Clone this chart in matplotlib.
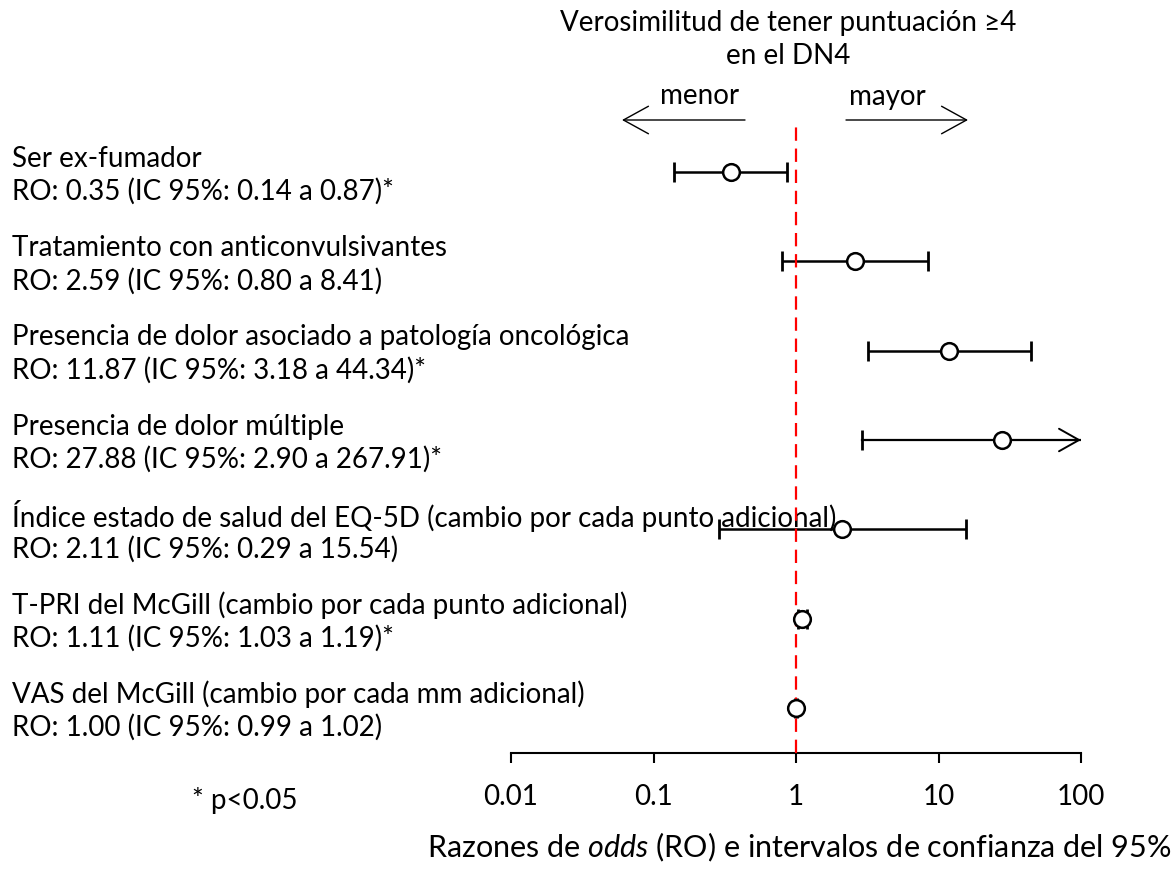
import numpy as np
import matplotlib.pyplot as plt
import matplotlib.transforms as mtransforms

plt.rcParams['font.family'] = ['Lato', 'DejaVu Sans']
plt.rcParams['mathtext.fontset'] = 'custom'
plt.rcParams['mathtext.it'] = 'Lato:italic'
plt.rcParams['mathtext.rm'] = 'Lato'

# odds ratios with 95% confidence intervals
factores = [
    "Ser ex-fumador",
    "Tratamiento con anticonvulsivantes",
    "Presencia de dolor asociado a patología oncológica",
    "Presencia de dolor múltiple",
    "Índice estado de salud del EQ-5D (cambio por cada punto adicional)",
    "T-PRI del McGill (cambio por cada punto adicional)",
    "VAS del McGill (cambio por cada mm adicional)",
]
ro = [0.35, 2.59, 11.87, 27.88, 2.11, 1.11, 1.00]
ic_inf = [0.14, 0.80, 3.18, 2.90, 0.29, 1.03, 0.99]
ic_sup = [0.87, 8.41, 44.34, 267.91, 15.54, 1.19, 1.02]
signif = [True, False, True, True, False, True, False]

ticks = [0.01, 0.1, 1, 10, 100]
tick_labels = ["0.01", "0.1", "1", "10", "100"]

W, H = 1176, 876
fig = plt.figure(figsize=(W / 100, H / 100), dpi=100)
ax = fig.add_axes([511 / W, 123 / H, 570 / W, 753 / H])

xmin, xmax = 0.01, 100
ax.set_xscale("log")
ax.set_xlim(xmin, xmax)
ax.set_ylim(6.504, -1.926)

fs = 20
for i in range(len(ro)):
    y = i
    lo, hi = ic_inf[i], ic_sup[i]
    if hi > xmax:
        ax.plot([lo, xmax], [y, y], color="black", lw=1.6, zorder=2)
        ax.annotate("", xy=(xmax, y), xytext=(xmax * 0.7, y),
                    arrowprops=dict(arrowstyle="->,head_length=0.8,head_width=0.45",
                                    color="black", lw=1.4, mutation_scale=18,
                                    shrinkA=0, shrinkB=0), zorder=2)
        ax.plot([lo], [y], marker="|", ms=15, mew=2, color="black", zorder=2)
    else:
        ax.errorbar([ro[i]], [y], xerr=[[ro[i] - lo], [hi - ro[i]]], fmt="none",
                    ecolor="black", elinewidth=1.8, capsize=7.5, capthick=2, zorder=2)
    ax.plot([ro[i]], [y], marker="o", ms=12, mfc="white", mec="black", mew=1.8,
            zorder=4)

    # row labels on the left side of the figure
    trans = mtransforms.blended_transform_factory(fig.transFigure, ax.transData)
    star = "*" if signif[i] else ""
    ax.text(12 / W, y - 0.15, factores[i], transform=trans, fontsize=fs,
            ha="left", va="center")
    ax.text(12 / W, y + 0.22,
            "RO: %.2f (IC 95%%: %.2f a %.2f)%s" % (ro[i], lo, hi, star),
            transform=trans, fontsize=fs, ha="left", va="center")

# reference line at OR = 1
ax.axvline(1, ymin=0, ymax=(753 - 125) / 753, color="red", ls=(0, (6, 3.5)),
           lw=1.6, zorder=3)

for s in ["top", "right", "left"]:
    ax.spines[s].set_visible(False)
ax.spines["bottom"].set_linewidth(1.5)
ax.set_yticks([])
ax.set_xticks(ticks)
ax.set_xticklabels(tick_labels)
ax.minorticks_off()
ax.tick_params(axis="x", direction="out", length=7.5, width=1.5, pad=15,
               labelsize=fs)
ax.patch.set_alpha(0)

# header with direction arrows
fig.text(788 / W, 1 - 23 / H, "Verosimilitud de tener puntuación ≥4",
         fontsize=fs, ha="center", va="center")
fig.text(788 / W, 1 - 56 / H, "en el DN4", fontsize=fs, ha="center", va="center")
fig.text(700 / W, 1 - 96 / H, "menor", fontsize=fs, ha="center", va="center")
fig.text(887 / W, 1 - 97 / H, "mayor", fontsize=fs, ha="center", va="center")
arrow_kw = dict(arrowstyle="->,head_length=1.0,head_width=0.55", color="black",
                lw=1.0, mutation_scale=18, shrinkA=0, shrinkB=0)
fig.add_artist(plt.Annotation("", xy=(622 / W, 1 - 120 / H), xytext=(745 / W, 1 - 120 / H),
                              xycoords="figure fraction", arrowprops=arrow_kw))
fig.add_artist(plt.Annotation("", xy=(968 / W, 1 - 120 / H), xytext=(846 / W, 1 - 120 / H),
                              xycoords="figure fraction", arrowprops=arrow_kw))

fig.text(245 / W, 1 - 800 / H, "* p<0.05", fontsize=fs, ha="center", va="center")
fig.text(799 / W, 1 - 847 / H,
         "Razones de $odds$ (RO) e intervalos de confianza del 95%",
         fontsize=22, ha="center", va="center")

fig.savefig("out.png", dpi=100)
